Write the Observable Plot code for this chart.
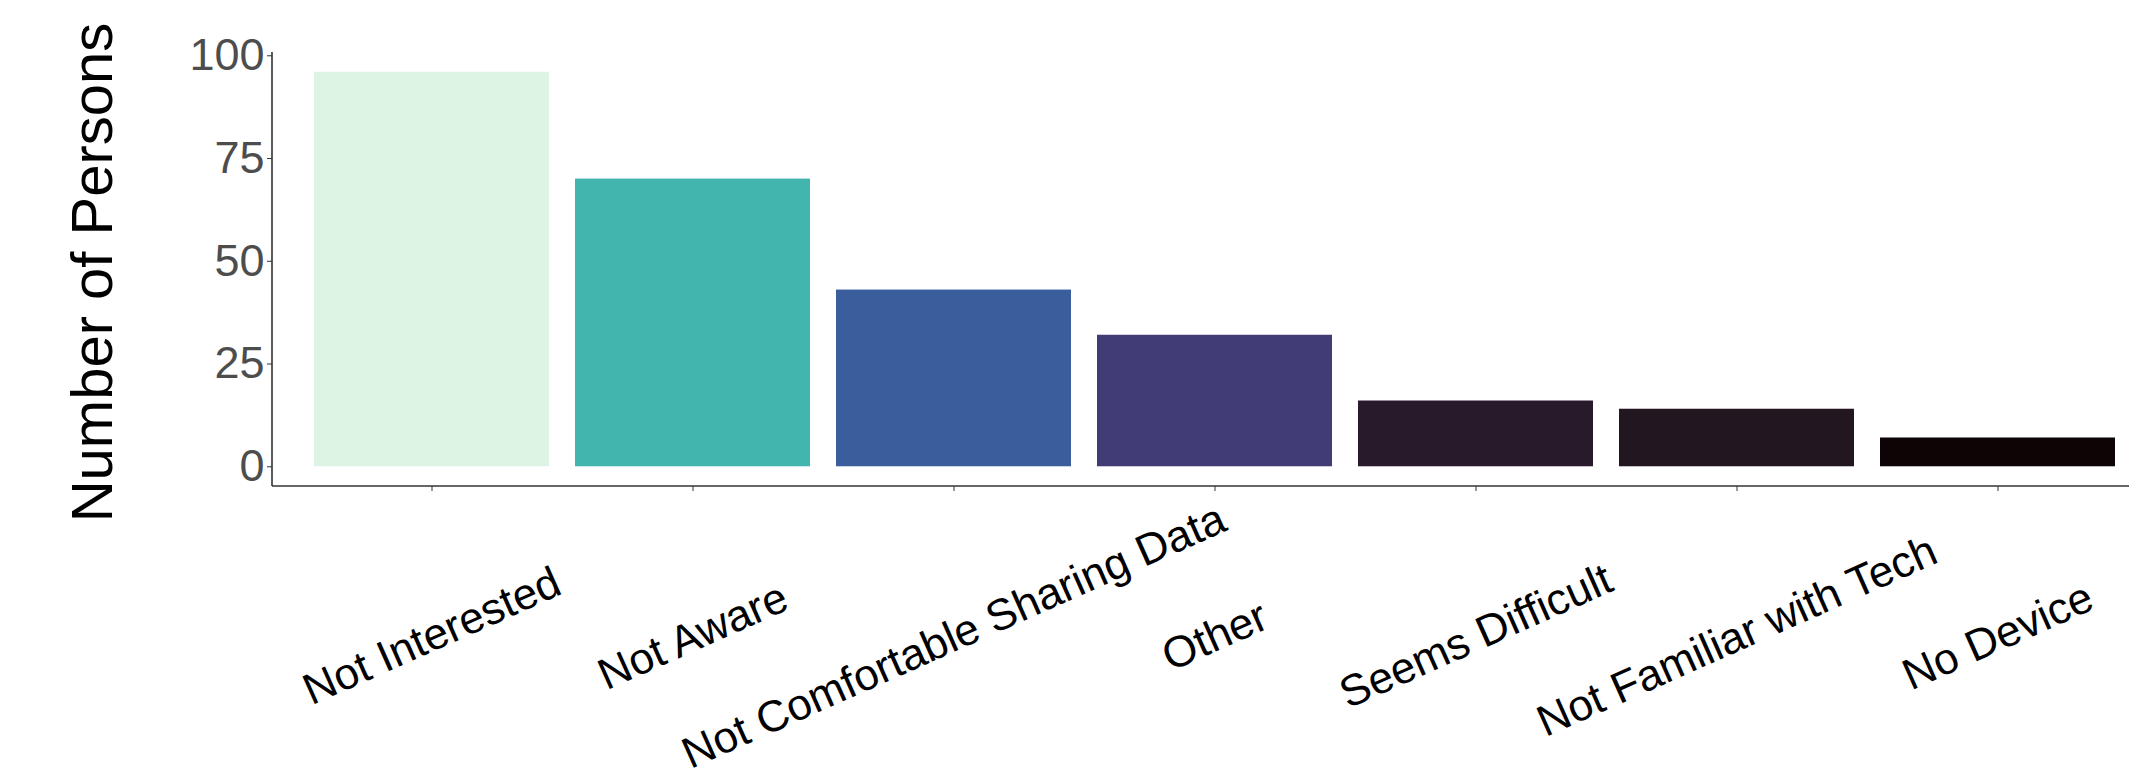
<!DOCTYPE html>
<html><head><meta charset="utf-8">
<script src="https://cdn.jsdelivr.net/npm/d3@7"></script>
<script src="https://cdn.jsdelivr.net/npm/@observablehq/plot@0.6"></script>
<style>html,body{margin:0;padding:0;background:#fff}</style>
</head><body><div id="chart"></div>
<script>
const reasons = ["Not Interested", "Not Aware", "Not Comfortable Sharing Data", "Other", "Seems Difficult", "Not Familiar with Tech", "No Device"];
const persons = [96, 70, 43, 32, 16, 14, 7];
const barColors = ["#DDF4E5", "#41B5AE", "#395E9B", "#413B76", "#28192B", "#221621", "#0C0405"];
const yTicks = [0, 25, 50, 75, 100];
const yTitle = "Number of Persons";

const data = reasons.map((r, i) => ({reason: r, persons: persons[i]}));
const yMax = d3.max(persons);
const yDomain = [-0.05 * yMax, 1.05 * yMax];

function axisLines(index, scales, values, dims) {
  const g = d3.create("svg:g").attr("stroke", "#333333").attr("stroke-width", 1.6);
  const yb = scales.y(yDomain[0]), yt = scales.y(yDomain[1]);
  g.append("line").attr("x1", dims.marginLeft).attr("x2", dims.marginLeft).attr("y1", yt).attr("y2", yb);
  g.append("line").attr("x1", dims.marginLeft).attr("x2", dims.width).attr("y1", yb).attr("y2", yb);
  return g.node();
}

const chart = Plot.plot({
  width: 2129,
  height: 784,
  marginLeft: 272,
  marginRight: 0,
  marginTop: 52,
  marginBottom: 298,
  style: {fontFamily: "'Liberation Sans', Arial, sans-serif", background: "#fff", overflow: "visible"},
  x: {domain: reasons, range: [272, 2156], paddingInner: 0.1, paddingOuter: 0.15, label: null},
  y: {domain: yDomain, label: null},
  color: {domain: reasons, range: barColors},
  marks: [
    Plot.barY(data, {x: "reason", y: "persons", fill: "reason"}),
    axisLines,
    Plot.axisY({ticks: yTicks, tickSize: 5, tickPadding: 3, fontSize: 45, fill: "#4D4D4D", stroke: "#333333", label: null}),
    Plot.axisX({tickSize: 5, stroke: "#333333", tickFormat: () => "", label: null}),
    Plot.text(reasons, {x: d => d, frameAnchor: "bottom", dy: 150, rotate: -24, fontSize: 44, fill: "#000", textAnchor: "middle", lineAnchor: "middle"}),
    Plot.text([yTitle], {frameAnchor: "left", dx: -161, dy: 3, rotate: -90, fontSize: 58, fill: "#000", textAnchor: "middle", lineAnchor: "bottom"})
  ]
});
document.getElementById("chart").appendChild(chart);
</script>
</body></html>
